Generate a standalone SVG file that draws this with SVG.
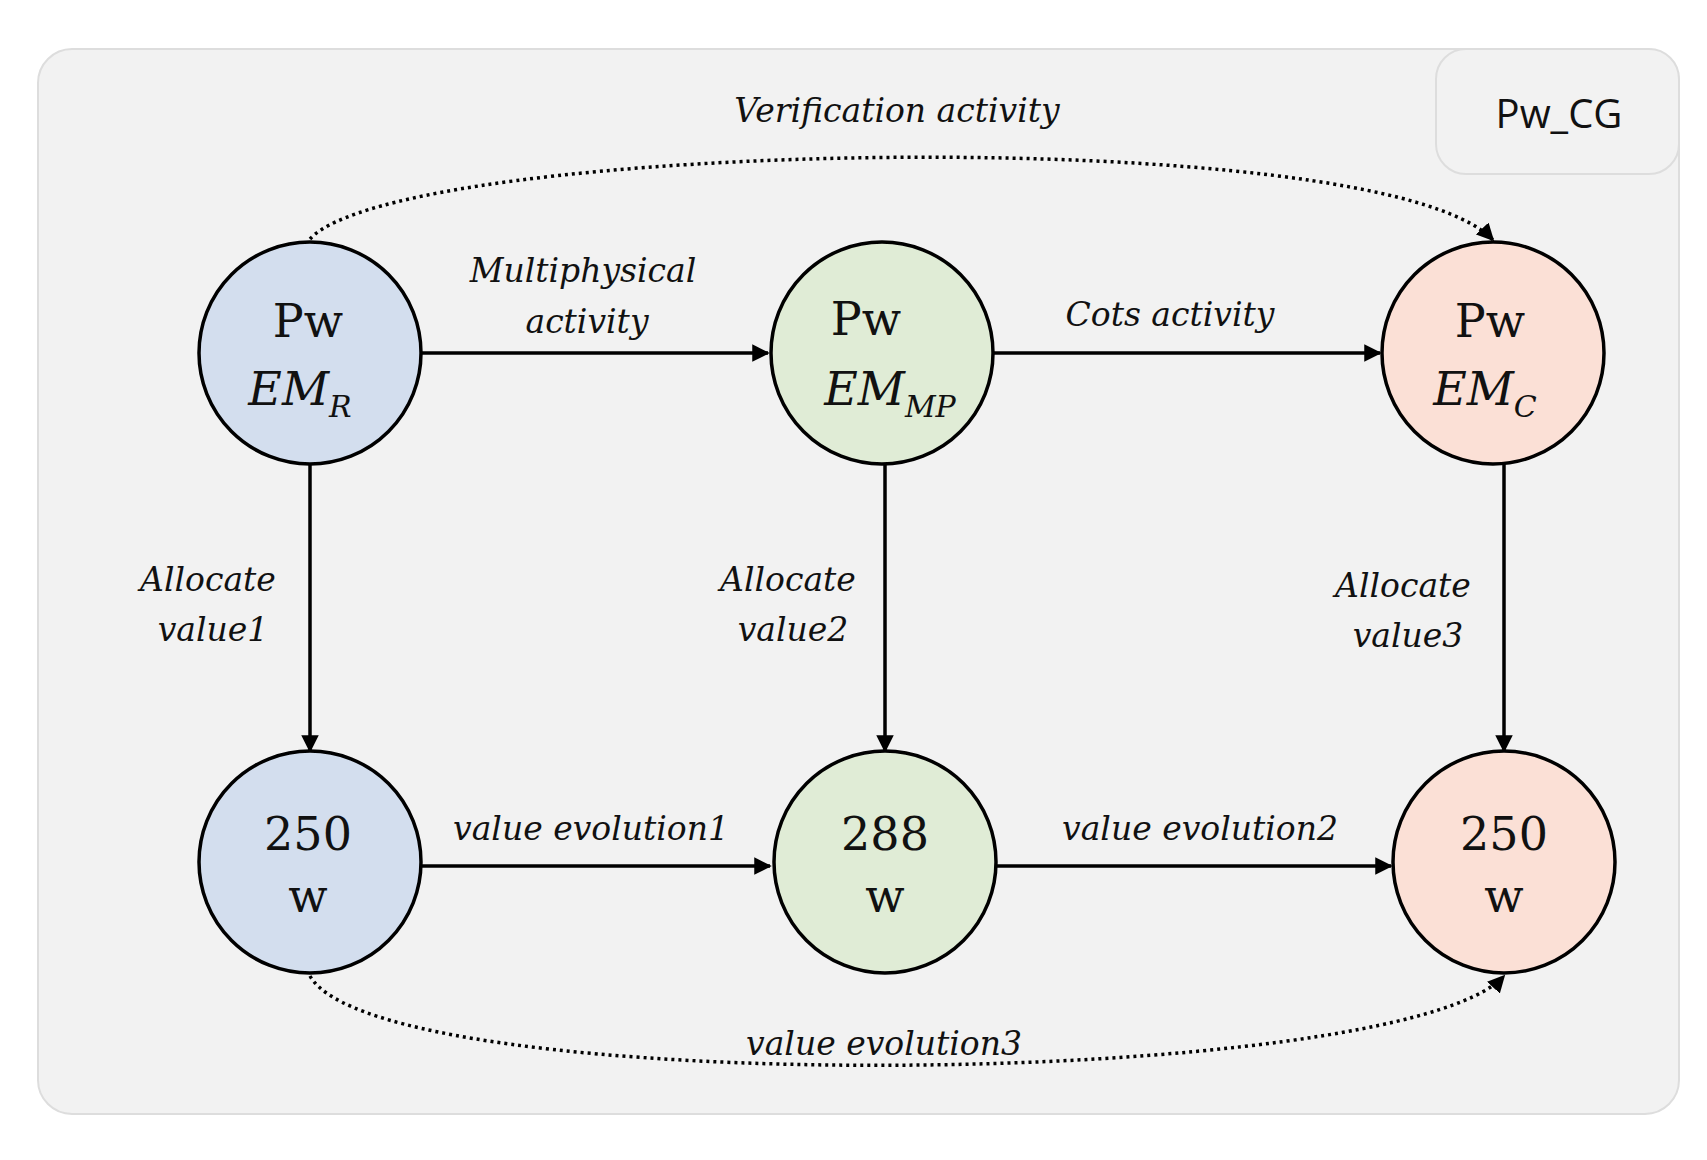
<svg xmlns="http://www.w3.org/2000/svg" width="1707" height="1160" viewBox="0 0 1707 1160">
<defs>
<style>
.n{stroke:#000;stroke-width:3.5}
.t{font-family:"DejaVu Serif","Liberation Serif",serif;font-size:46px;text-anchor:middle;fill:#111}
.i{font-style:italic}
.l{font-family:"DejaVu Serif","Liberation Serif",serif;font-style:italic;font-size:33px;text-anchor:middle;fill:#111}
.e{stroke:#000;stroke-width:3.5;fill:none;marker-end:url(#a)}
.d{stroke:#000;stroke-width:3.5;fill:none;stroke-dasharray:3 4;marker-end:url(#a)}
</style>
<marker id="a" viewBox="0 0 10 10" refX="9" refY="5" markerWidth="5" markerHeight="5" orient="auto"><path d="M0,0L10,5L0,10z" fill="#000"/></marker>
</defs>
<rect width="1707" height="1160" fill="#fff"/>
<rect x="38" y="49" width="1641" height="1065" rx="34" fill="#f2f2f2" stroke="#ddd" stroke-width="2"/>
<g id="title"><rect x="1436" y="49" width="243" height="125" rx="30" fill="#f2f2f2" stroke="#ddd" stroke-width="2"/>
<text x="1559" y="128" font-family="Open Sans,sans-serif" font-size="40" text-anchor="middle" fill="#111">Pw_CG</text></g>
<g id="connectors">
<path class="e" d="M421,353H768"/>
<path class="e" d="M993,353H1380"/>
<path class="e" d="M421,866H770"/>
<path class="e" d="M996,866H1391"/>
<path class="e" d="M310,464V751"/>
<path class="e" d="M885,464V751"/>
<path class="e" d="M1504,464V751"/>
<path class="d" d="M310,239C400,140 1380,120 1493,240"/>
<path class="d" d="M310,976C380,1100 1400,1090 1504,976"/>
<text class="l" x="897" y="122">Verification activity</text>
<text class="l" x="583" y="282">Multiphysical</text>
<text class="l" x="587" y="333">activity</text>
<text class="l" x="1170" y="326">Cots activity</text>
<text class="l" x="208" y="591">Allocate</text>
<text class="l" x="213" y="641">value1</text>
<text class="l" x="788" y="591">Allocate</text>
<text class="l" x="793" y="641">value2</text>
<text class="l" x="1403" y="597">Allocate</text>
<text class="l" x="1408" y="647">value3</text>
<text class="l" x="591" y="840">value evolution1</text>
<text class="l" x="1200" y="840">value evolution2</text>
<text class="l" x="884" y="1055">value evolution3</text>
</g>
<g id="n1"><circle class="n" cx="310" cy="353" r="111" fill="#d3deee"/><text class="t" x="308" y="337">Pw</text><text class="t i" x="300" y="405">EM<tspan font-size="30" dy="12">R</tspan></text></g>
<g id="n2"><circle class="n" cx="882" cy="353" r="111" fill="#e0ecd6"/><text class="t" x="866" y="335">Pw</text><text class="t i" x="890" y="405">EM<tspan font-size="30" dy="12">MP</tspan></text></g>
<g id="n3"><circle class="n" cx="1493" cy="353" r="111" fill="#fbe0d6"/><text class="t" x="1490" y="337">Pw</text><text class="t i" x="1485" y="405">EM<tspan font-size="30" dy="12">C</tspan></text></g>
<g id="n4"><circle class="n" cx="310" cy="862" r="111" fill="#d3deee"/><text class="t" x="308" y="850">250</text><text class="t" x="308" y="912">w</text></g>
<g id="n5"><circle class="n" cx="885" cy="862" r="111" fill="#e0ecd6"/><text class="t" x="885" y="850">288</text><text class="t" x="885" y="912">w</text></g>
<g id="n6"><circle class="n" cx="1504" cy="862" r="111" fill="#fbe0d6"/><text class="t" x="1504" y="850">250</text><text class="t" x="1504" y="912">w</text></g>
</svg>
